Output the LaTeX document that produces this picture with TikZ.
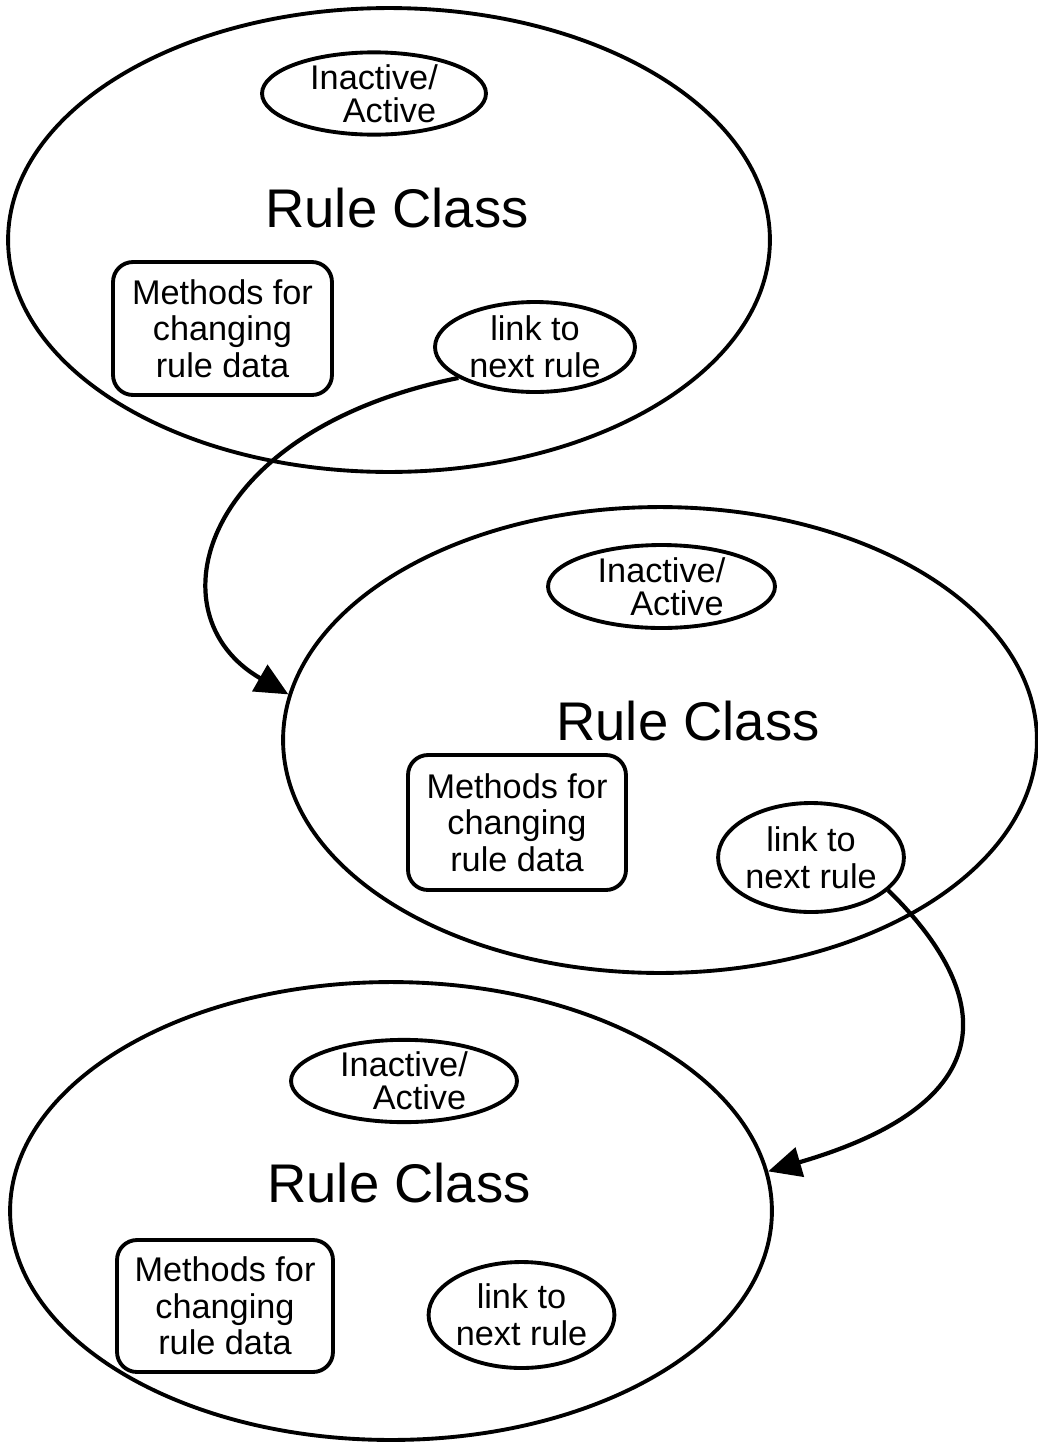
\documentclass[tikz,border=0pt]{standalone}
\usepackage{fontspec}
\setmainfont{Liberation Sans}
\usetikzlibrary{shapes.geometric,arrows.meta}
\begin{document}
\begin{tikzpicture}[x=0.02cm,y=-0.02cm,
  outline/.style={draw=black,line width=2.2pt},
  classell/.style={outline,ellipse,inner sep=0pt},
  smalltext/.style={align=center,font=\fontsize{19.5}{20.8}\selectfont},
  stateell/.style={outline,ellipse,inner sep=0pt,smalltext,font=\fontsize{19.5}{18.8}\selectfont},
  linkell/.style={outline,ellipse,inner sep=0pt,smalltext},
  methodbox/.style={outline,rectangle,rounded corners=0.4cm,inner sep=0pt,smalltext},
  classtitle/.style={anchor=base,inner sep=0pt,font=\fontsize{31}{31}\selectfont},
  nextlink/.style={line width=2.4pt,-{Triangle[length=0.66cm,width=0.6cm]}}]
\useasboundingbox (0,0) rectangle (1038,1444);

% first rule object
\node[classell,minimum width=15.24cm,minimum height=9.28cm] (r1) at (389,240) {};
\node[stateell,minimum width=4.48cm,minimum height=1.56cm] (s1) at (374,93.5) {Inactive/\\\hspace*{0.9em}Active};
\node[classtitle] (t1) at (397,227) {Rule Class};
\node[methodbox,minimum width=4.38cm,minimum height=2.66cm] (m1) at (222.5,328.5) {Methods for\\changing\\rule data};
\node[linkell,minimum width=4.0cm,minimum height=1.8cm] (l1) at (535,347) {link to\\next rule};

% second rule object
\node[classell,minimum width=15.08cm,minimum height=9.32cm] (r2) at (660,740) {};
\node[stateell,minimum width=4.54cm,minimum height=1.66cm] (s2) at (661.5,586.5) {Inactive/\\\hspace*{0.9em}Active};
\node[classtitle] (t2) at (688,740) {Rule Class};
\node[methodbox,minimum width=4.36cm,minimum height=2.7cm] (m2) at (517,822.5) {Methods for\\changing\\rule data};
\node[linkell,minimum width=3.36cm,minimum height=2.18cm] (l2) at (811,857.5) {link to\\next rule};

% third rule object
\node[classell,minimum width=15.24cm,minimum height=9.16cm] (r3) at (391,1211) {};
\node[stateell,minimum width=4.52cm,minimum height=1.64cm] (s3) at (404,1081) {Inactive/\\\hspace*{0.9em}Active};
\node[classtitle] (t3) at (399,1202) {Rule Class};
\node[methodbox,minimum width=4.32cm,minimum height=2.64cm] (m3) at (225,1306) {Methods for\\changing\\rule data};
\node[linkell,minimum width=3.38cm,minimum height=2.12cm] (l3) at (521.5,1315) {link to\\next rule};

% links between consecutive rules
\draw[nextlink] (l1.202) .. controls (200,430) and (150,615) .. (r2.173);
\draw[nextlink] (l2.337) .. controls (975,975) and (1030,1095) .. (r3.6);
\end{tikzpicture}
\end{document}
